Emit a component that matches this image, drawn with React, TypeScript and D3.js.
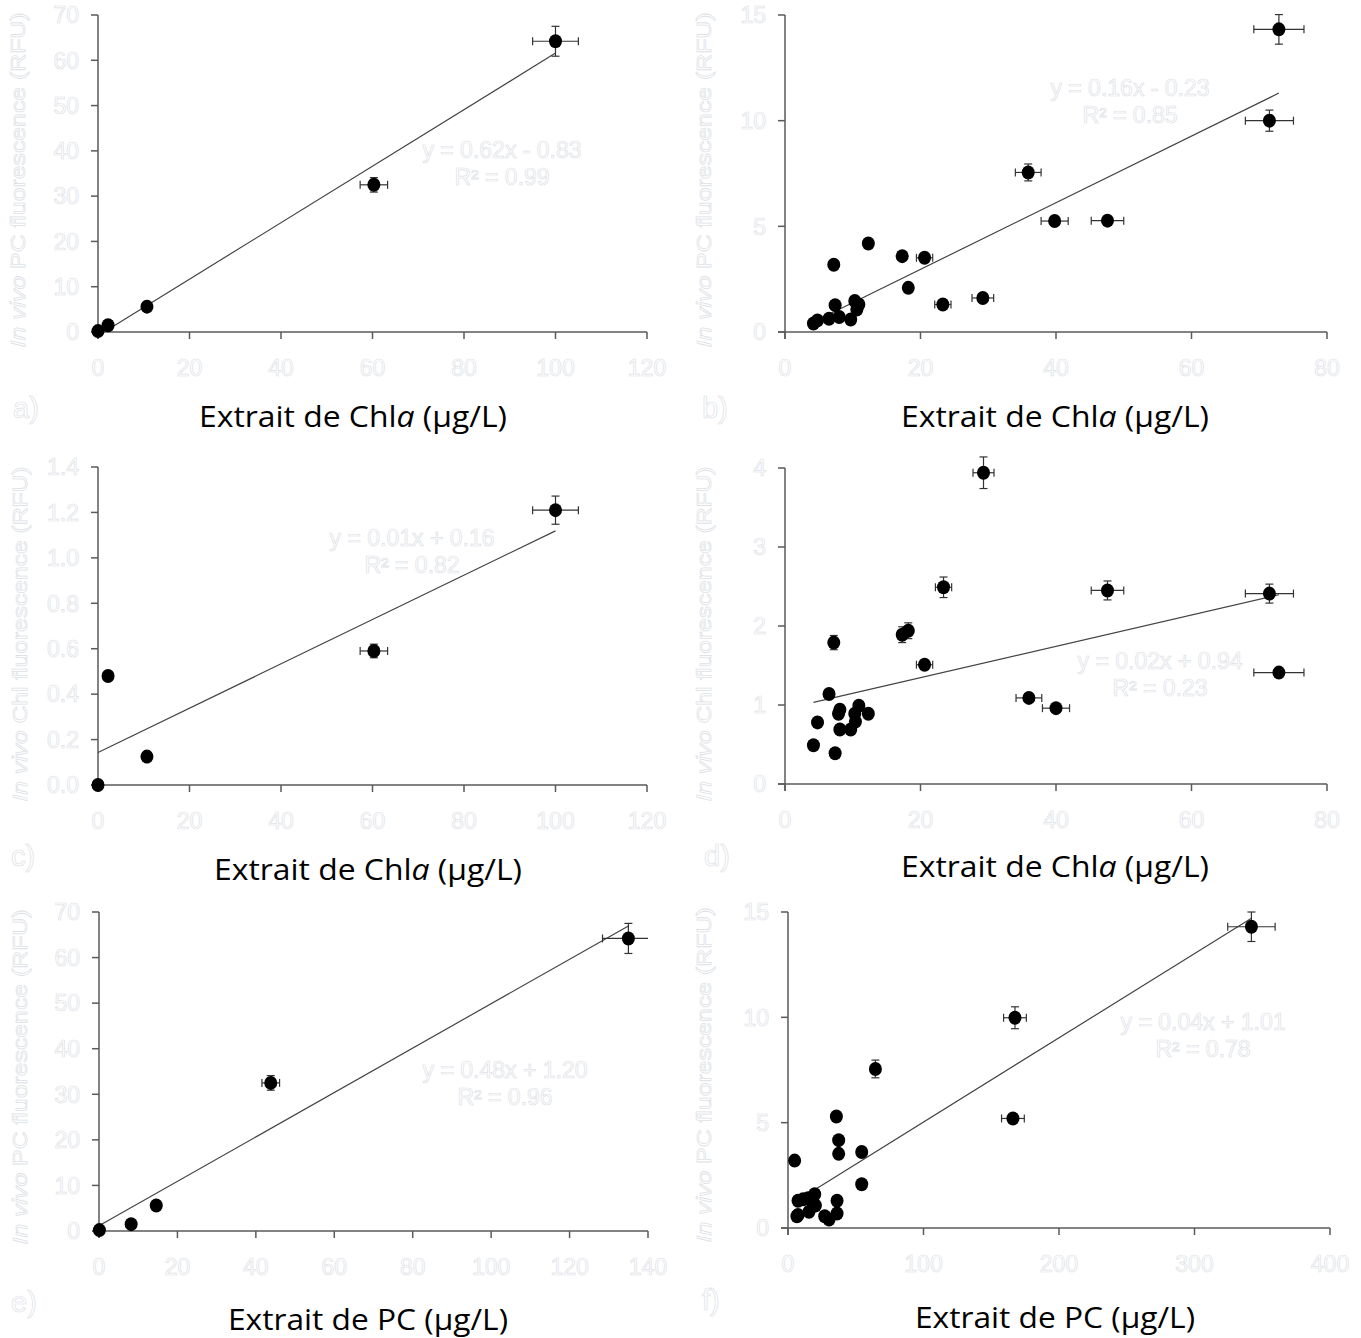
import React from 'react';
import * as d3 from 'd3';

// five-sample series (a, c, e)
const chlExtract5 = [0, 2.2, 10.7, 60.3, 100.0];
const chlExtract5Err = [0, 0, 0, 3.0, 5.0];
const pcExtract5 = [0.1, 8.2, 14.6, 43.8, 135.0];
const pcExtract5Err = [0, 0, 0, 2.25, 6.6];
const pcFluo5 = [0.2, 1.5, 5.6, 32.5, 64.2];
const pcFluo5Err = [0, 0, 0, 1.6, 3.3];
const chlFluo5 = [0.0, 0.48, 0.125, 0.59, 1.21];
const chlFluo5Err = [0, 0.02, 0, 0.03, 0.062];

// panel b
const bChl = [4.2, 4.8, 6.5, 8.0, 9.7, 7.4, 7.2, 10.3, 10.9, 10.6, 12.3, 17.3, 20.6, 18.2, 23.3, 29.2, 35.9, 39.8, 47.6, 71.5, 72.9];
const bChlErr = [0, 0, 0, 0, 0, 0, 0, 0, 0, 0, 0, 0.6, 1.2, 0.5, 1.2, 1.6, 1.9, 2.0, 2.4, 3.55, 3.7];
const bPc = [0.40, 0.55, 0.63, 0.71, 0.59, 1.27, 3.18, 1.47, 1.30, 1.06, 4.19, 3.59, 3.51, 2.09, 1.30, 1.61, 7.55, 5.25, 5.27, 10.0, 14.32];
const bPcErr = [0, 0, 0, 0, 0, 0, 0, 0, 0, 0, 0, 0.1, 0.1, 0.1, 0.1, 0.1, 0.4, 0.2, 0.2, 0.5, 0.7];

// panel d
const dChl = [29.3, 23.4, 47.6, 71.5, 72.9, 18.2, 17.3, 20.6, 7.2, 36.0, 40.0, 6.5, 10.9, 8.1, 7.9, 10.3, 12.3, 10.4, 4.8, 8.1, 9.7, 4.2, 7.4];
const dChlErr = [1.55, 1.2, 2.4, 3.55, 3.7, 0.5, 0.6, 1.2, 0, 1.9, 2.0, 0, 0, 0, 0, 0, 0, 0, 0, 0, 0, 0, 0];
const dFluo = [3.94, 2.49, 2.45, 2.41, 1.41, 1.94, 1.89, 1.51, 1.79, 1.09, 0.96, 1.14, 0.99, 0.94, 0.89, 0.89, 0.89, 0.79, 0.78, 0.69, 0.69, 0.49, 0.39];
const dFluoErr = [0.2, 0.13, 0.12, 0.12, 0.05, 0.1, 0.1, 0.05, 0.09, 0.05, 0.05, 0, 0, 0, 0, 0, 0, 0, 0, 0, 0, 0, 0];

// panel f
const fPc = [4.9, 6.6, 7.4, 7.4, 11.1, 14.8, 15.5, 19.7, 20.2, 27.1, 30.3, 36.2, 36.2, 35.7, 37.4, 37.4, 54.4, 54.4, 64.5, 166, 167.5, 342];
const fPcErr = [0, 0, 0, 0, 0, 0, 0, 0, 0, 0, 0, 0, 0, 0, 0, 0, 0, 0, 0, 8.4, 8.4, 17.5];
const fFluo = [3.20, 0.56, 0.62, 1.29, 1.36, 1.41, 0.77, 1.60, 1.07, 0.56, 0.40, 1.29, 0.69, 5.29, 4.17, 3.52, 3.61, 2.08, 7.55, 5.2, 9.98, 14.3];
const fFluoErr = [0, 0, 0, 0, 0, 0, 0, 0, 0, 0, 0, 0, 0, 0.2, 0, 0, 0, 0, 0.42, 0.2, 0.52, 0.7];

// tick labels
const ticks120 = [0, 20, 40, 60, 80, 100, 120];
const ticks140 = [0, 20, 40, 60, 80, 100, 120, 140];
const ticks80 = [0, 20, 40, 60, 80];
const ticks400 = [0, 100, 200, 300, 400];
const ticks70 = [0, 10, 20, 30, 40, 50, 60, 70];
const ticks15 = [0, 5, 10, 15];
const ticks14 = [0, 0.2, 0.4, 0.6, 0.8, 1.0, 1.2, 1.4];
const ticks4 = [0, 1, 2, 3, 4];

const equations = [
  ['y = 0.62x - 0.83', 'R² = 0.99'],
  ['y = 0.16x - 0.23', 'R² = 0.85'],
  ['y = 0.01x + 0.16', 'R² = 0.82'],
  ['y = 0.02x + 0.94', 'R² = 0.23'],
  ['y = 0.48x + 1.20', 'R² = 0.96'],
  ['y = 0.04x + 1.01', 'R² = 0.78'],
];
const panelLabels = ['a)', 'b)', 'c)', 'd)', 'e)', 'f)'];

const ghost = { fill: '#fff', stroke: '#dde1e6', strokeWidth: 0.7 };
const sans = '"Liberation Sans", Arial, sans-serif';

function fit(xs, ys) {
  const mx = d3.mean(xs), my = d3.mean(ys);
  let sxy = 0, sxx = 0;
  xs.forEach((v, i) => { sxy += (v - mx) * (ys[i] - my); sxx += (v - mx) * (v - mx); });
  const m = sxy / sxx;
  return { m, b: my - m * mx };
}

function Panel({ p, i }) {
  const x = d3.scaleLinear().domain([0, p.xTicks[p.xTicks.length - 1]]).range([p.left, p.right]);
  const y = d3.scaleLinear().domain([0, p.yTicks[p.yTicks.length - 1]]).range([p.bottom, p.top]);
  const { m, b } = fit(p.xs, p.ys);
  const [xmin, xmax] = d3.extent(p.xs);
  const line = d3.line().x(d => x(d[0])).y(d => y(d[1]));
  const trend = line([[xmin, m * xmin + b], [xmax, m * xmax + b]]);
  const fmt = p.yFmt || (v => String(v));
  const [xd0, xd1] = x.domain();
  const axisCol = '#5a5a5a';
  const barCol = '#333';
  const cap = 4;

  return (
    <g>
      {/* axes */}
      <line x1={p.left} x2={p.left} y1={p.top} y2={p.bottom + 7} stroke={axisCol} strokeWidth={1.5} />
      <line x1={p.left - 7} x2={p.right} y1={p.bottom} y2={p.bottom} stroke={axisCol} strokeWidth={1.5} />
      {p.xTicks.map(t => (
        <g key={'x' + t}>
          <line x1={x(t)} x2={x(t)} y1={p.bottom} y2={p.bottom + 7} stroke={axisCol} strokeWidth={1.5} />
          <text x={x(t)} y={p.bottom + 44} textAnchor="middle" fontFamily={sans} fontSize={23} style={ghost}>{t}</text>
        </g>
      ))}
      {p.yTicks.map(t => (
        <g key={'y' + t}>
          <line x1={p.left - 7} x2={p.left} y1={y(t)} y2={y(t)} stroke={axisCol} strokeWidth={1.5} />
          <text x={p.left - 19} y={y(t)} dy="0.36em" textAnchor="end" fontFamily={sans} fontSize={23} style={ghost}>{fmt(t)}</text>
        </g>
      ))}

      {/* trendline */}
      <path d={trend} fill="none" stroke="#444" strokeWidth={1.2} />

      {/* error bars */}
      {p.xs.map((v, k) => {
        const ex = p.xe[k], ey = p.ye[k];
        const cx = x(v), cy = y(p.ys[k]);
        const xl = x(Math.max(xd0, v - ex)), xr = x(Math.min(xd1, v + ex));
        return (
          <g key={'e' + k} stroke={barCol} strokeWidth={1.2}>
            {ex > 0 && <line x1={xl} x2={xr} y1={cy} y2={cy} />}
            {ex > 0 && v - ex >= xd0 && <line x1={xl} x2={xl} y1={cy - cap} y2={cy + cap} />}
            {ex > 0 && v + ex <= xd1 && <line x1={xr} x2={xr} y1={cy - cap} y2={cy + cap} />}
            {ey > 0 && <line x1={cx} x2={cx} y1={y(p.ys[k] - ey)} y2={y(p.ys[k] + ey)} />}
            {ey > 0 && <line x1={cx - cap} x2={cx + cap} y1={y(p.ys[k] - ey)} y2={y(p.ys[k] - ey)} />}
            {ey > 0 && <line x1={cx - cap} x2={cx + cap} y1={y(p.ys[k] + ey)} y2={y(p.ys[k] + ey)} />}
          </g>
        );
      })}

      {/* points */}
      {p.xs.map((v, k) => (
        <ellipse key={'p' + k} cx={x(v)} cy={y(p.ys[k])} rx={6.5} ry={7} fill="#000" />
      ))}

      {/* equation */}
      <text x={p.eqX} y={p.eqY} textAnchor="middle" fontFamily={sans} fontSize={23} style={ghost}>{equations[i][0]}</text>
      <text x={p.eqX} y={p.eqY + 27} textAnchor="middle" fontFamily={sans} fontSize={23} style={ghost}>{equations[i][1]}</text>

      {/* y title */}
      <text transform={`translate(${p.yTitleX},${p.yTitleY}) rotate(-90)`} dy="0.35em" textAnchor="middle"
        fontFamily={sans} fontSize={21} style={ghost} textLength={335} lengthAdjust="spacingAndGlyphs">
        <tspan fontStyle="italic">In vivo</tspan> {p.yName} fluorescence (RFU)
      </text>

      {/* x title */}
      <text x={p.xTitleX} y={p.xTitleY} textAnchor="middle" fontFamily='"Open Sans", "Noto Sans", sans-serif'
        fontSize={30} fill="#000" textLength={p.xTitleW} lengthAdjust="spacingAndGlyphs">
        {p.xName === 'Chl'
          ? <>Extrait de Chl<tspan fontStyle="italic">a</tspan> (µg/L)</>
          : <>Extrait de PC (µg/L)</>}
      </text>

      {/* panel label */}
      <text x={p.labelX} y={p.labelY} fontFamily={sans} fontSize={29} style={ghost}>{panelLabels[i]}</text>
    </g>
  );
}

const panels = [
  { xs: chlExtract5, ys: pcFluo5, xe: chlExtract5Err, ye: pcFluo5Err, xTicks: ticks120, yTicks: ticks70,
    left: 98, right: 647, top: 15, bottom: 332, eqX: 502, eqY: 158, yName: 'PC', xName: 'Chl',
    yTitleX: 18, yTitleY: 180, xTitleX: 353, xTitleY: 427, xTitleW: 308, labelX: 13, labelY: 418 },
  { xs: bChl, ys: bPc, xe: bChlErr, ye: bPcErr, xTicks: ticks80, yTicks: ticks15,
    left: 785, right: 1327, top: 15, bottom: 332, eqX: 1130, eqY: 96, yName: 'PC', xName: 'Chl',
    yTitleX: 704, yTitleY: 180, xTitleX: 1055, xTitleY: 427, xTitleW: 308, labelX: 702, labelY: 418 },
  { xs: chlExtract5, ys: chlFluo5, xe: chlExtract5Err, ye: chlFluo5Err, xTicks: ticks120, yTicks: ticks14,
    yFmt: v => v.toFixed(1),
    left: 98, right: 647, top: 467, bottom: 785, eqX: 412, eqY: 546, yName: 'Chl', xName: 'Chl',
    yTitleX: 20, yTitleY: 634, xTitleX: 368, xTitleY: 880, xTitleW: 308, labelX: 11, labelY: 866 },
  { xs: dChl, ys: dFluo, xe: dChlErr, ye: dFluoErr, xTicks: ticks80, yTicks: ticks4,
    left: 785, right: 1327, top: 468, bottom: 784, eqX: 1160, eqY: 669, yName: 'Chl', xName: 'Chl',
    yTitleX: 704, yTitleY: 634, xTitleX: 1055, xTitleY: 877, xTitleW: 308, labelX: 704, labelY: 866 },
  { xs: pcExtract5, ys: pcFluo5, xe: pcExtract5Err, ye: pcFluo5Err, xTicks: ticks140, yTicks: ticks70,
    left: 99, right: 648, top: 912, bottom: 1231, eqX: 505, eqY: 1078, yName: 'PC', xName: 'PC',
    yTitleX: 20, yTitleY: 1077, xTitleX: 368, xTitleY: 1330, xTitleW: 280, labelX: 11, labelY: 1312 },
  { xs: fPc, ys: fFluo, xe: fPcErr, ye: fFluoErr, xTicks: ticks400, yTicks: ticks15,
    left: 788, right: 1330, top: 912, bottom: 1228, eqX: 1203, eqY: 1030, yName: 'PC', xName: 'PC',
    yTitleX: 704, yTitleY: 1075, xTitleX: 1055, xTitleY: 1328, xTitleW: 280, labelX: 702, labelY: 1310 },
];

export default function App() {
  return (
    <svg width={1361} height={1338} style={{ position: 'absolute', left: 0, top: 0, background: '#fff' }}>
      {panels.map((p, i) => <Panel key={i} p={p} i={i} />)}
    </svg>
  );
}
